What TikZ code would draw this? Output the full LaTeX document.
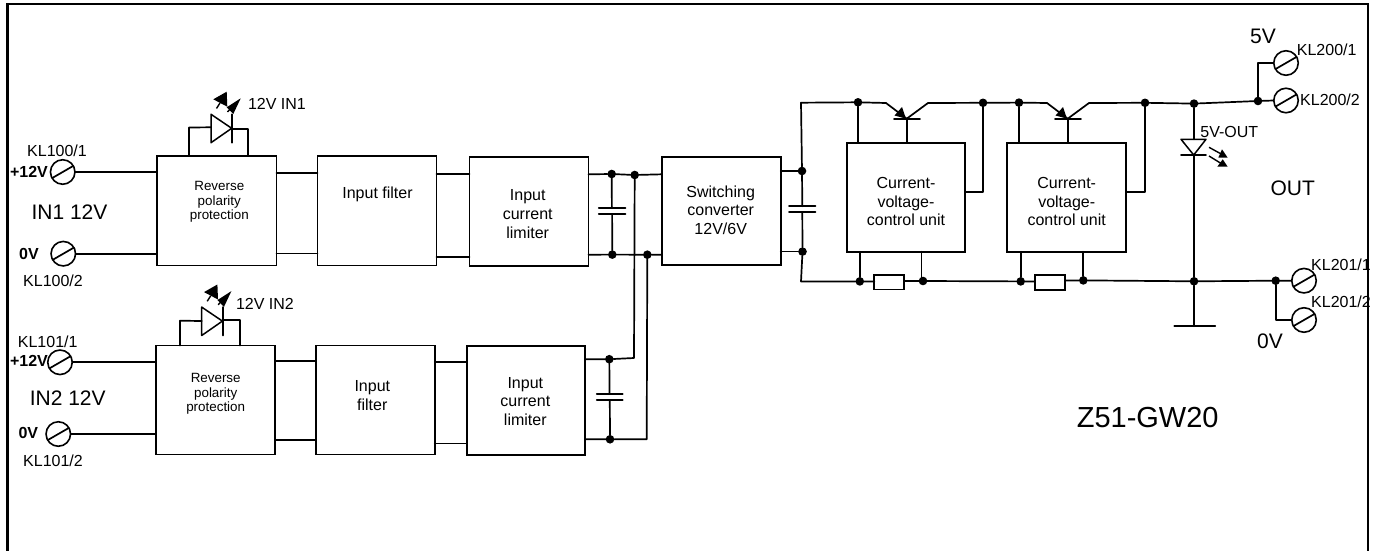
\documentclass[tikz,border=0pt]{standalone}
\usepackage{fontspec}
\setmainfont{Liberation Sans}
\newcommand{\fsz}[1]{\fontsize{#1}{#1}\selectfont}
\tikzset{
  wire/.style={line width=1.7pt,line cap=round,line join=round},
  bx/.style={draw,line width=1.9pt,rectangle,inner sep=0pt,outer sep=0pt,anchor=north west,fill=white},
  dot/.style={circle,fill=black,inner sep=0pt,outer sep=0pt,minimum size=8.6pt},
  term/.style={circle,draw,line width=1.6pt,inner sep=0pt,outer sep=0pt,minimum size=24.5pt},
  res/.style={draw,line width=1.7pt,rectangle,inner sep=0pt,outer sep=0pt,fill=white,minimum width=30pt,minimum height=14.5pt},
  tx/.style={inner sep=0pt,align=center},
  small/.style={tx,font=\fsz{13.4}\linespread{1.1}},
  med/.style={tx,font=\fsz{16}},
  big/.style={tx,font=\fsz{21}},
  bold/.style={tx,font=\bfseries\fsz{16}},
}
\newcommand{\terminal}[2]{%
  \node[term] (#1) at (#2) {};
  \draw[wire] (#1.210) -- (#1.30);}
\newcommand{\boxnode}[5]{% name, x, y, w, h
  \node[bx,minimum width=#4pt,minimum height=#5pt] (#1) at (#2,#3) {};}
\newcommand{\ledin}{%
  \draw[wire,line width=1.5pt] (211,114.3) -- (211,142.7) -- (231.7,128.3) -- cycle;
  \draw[wire] (232.3,114.3) -- (232.3,142.7);
  \fill (213.3,99.3) -- (226.7,91.7) -- (227.3,106.7) -- cycle;
  \fill (226.7,107.3) -- (240.7,98.3) -- (233.3,114) -- cycle;
  \draw[line width=1.4pt] (216.5,108.5) -- (220,103);
  \draw[line width=1.4pt] (227.5,112) -- (231,108);}
\newcommand{\transistor}{%
  \draw[wire] (886,103) -- (906.7,118.7) -- (928,103);
  \draw[wire] (894,118.7) -- (920,118.7);
  \fill (906,118.7) -- (894.5,115.5) -- (902,107) -- cycle;}
\begin{document}
\begin{tikzpicture}[x=1pt,y=-1pt]
\useasboundingbox (0,0) rectangle (1378,551);
\fill[white] (0,0) rectangle (1378,551);

% blocks
\boxnode{rppa}{157}{156}{119.5}{109.5}
\boxnode{ifa}{317.5}{156}{119}{109.5}
\boxnode{icla}{469.5}{157}{119}{109}
\boxnode{sw}{661.7}{156.7}{119}{108.7}
\boxnode{cvca}{846.7}{142.7}{118.6}{109}
\boxnode{cvcb}{1007.3}{143}{118.7}{108.7}
\boxnode{rppb}{155.7}{345.5}{119.3}{109}
\boxnode{ifb}{316}{345.5}{118.7}{109}
\boxnode{iclb}{466.7}{345.7}{118.5}{109.3}

% terminals
\terminal{ta}{62.7,172}
\terminal{tb}{63.3,253.7}
\terminal{tc}{60,362.3}
\terminal{td}{58.3,434}
\terminal{te}{1286,63}
\terminal{tf}{1286,100.5}
\terminal{tg}{1304,280.7}
\terminal{th}{1304,320}

% dots
\foreach \n/\p in {da/{611.7,174},db/{634.7,175},dc/{612.3,254.6},dd/{647.3,254.7},
  de/{802,171},df/{802.5,251.6},dg/{858,102.3},dh/{983,102.8},di/{1019,102.6},
  dj/{1145,102.8},dk/{1194,103.6},dl/{1258,101},dm/{859.8,281.4},dn/{923,281},
  dp/{1020.7,281.4},dq/{1083.3,280.4},dr/{1194,281.3},ds/{1275.7,280.7},
  dt/{609.3,359.2},du/{610,439.3}}
  {\node[dot] (\n) at (\p) {};}

% input 1 wires
\draw[wire] (ta.east) -- (rppa.west |- ta.east);
\draw[wire] (tb.east) -- (rppa.west |- tb.east);
\draw[wire] (rppa.east |- 0,172.7) -- (ifa.west |- 0,172.7);
\draw[wire] (rppa.east |- 0,253.5) -- (ifa.west |- 0,253.5);
\draw[wire] (ifa.east |- 0,174) -- (icla.west |- 0,174);
\draw[wire] (ifa.east |- 0,257) -- (icla.west |- 0,257);
\draw[wire] (icla.east |- 0,174.3) -- (da) -- (db) -- (sw.west |- 0,174.3);
\draw[wire] (icla.east |- 0,254.7) -- (dc) -- (dd) -- (sw.west |- 0,254.7);
\draw[wire] (da) -- (611.9,208.3);
\draw[wire] (612.1,214.3) -- (dc);
\draw[wire] (598.7,208.3) -- (625.5,208.3);
\draw[wire] (598.7,214.3) -- (625.5,214.3);

% input 2 wires
\draw[wire] (tc.east) -- (rppb.west |- tc.east);
\draw[wire] (td.east) -- (rppb.west |- td.east);
\draw[wire] (rppb.east |- 0,361.3) -- (ifb.west |- 0,361.3);
\draw[wire] (rppb.east |- 0,440) -- (ifb.west |- 0,440);
\draw[wire] (ifb.east |- 0,362) -- (iclb.west |- 0,362);
\draw[wire] (ifb.east |- 0,443.5) -- (iclb.west |- 0,443.5);
\draw[wire] (iclb.east |- dt) -- (dt) -- (634,358) -- (db);
\draw[wire] (iclb.east |- du) -- (du) -- (646.7,439.3) -- (dd);
\draw[wire] (dt) -- (609.6,394);
\draw[wire] (609.8,400) -- (du);
\draw[wire] (596.7,394) -- (622.7,394);
\draw[wire] (596.7,400) -- (622.7,400);

% converter output
\draw[wire] (sw.east |- de) -- (de);
\draw[wire] (sw.east |- df) -- (df);
\draw[wire] (de) -- (802.3,206.3);
\draw[wire] (802.3,212.3) -- (df);
\draw[wire] (789,206.3) -- (815.5,206.3);
\draw[wire] (789,212.3) -- (815.5,212.3);

% upper rail
\draw[wire] (de) -- (801,102.7) -- (dg) -- (886,103);
\transistor
\begin{scope}[xshift=161pt]\transistor\end{scope}
\draw[wire] (928,103) -- (dh) -- (di) -- (1047,103);
\draw[wire] (1089,103) -- (dj) -- (dk) -- (dl) -- (tf.west);
\draw[wire] (906.7,118.7) -- (cvca.north -| 906.7,0);
\draw[wire] (1067.7,118.7) -- (cvcb.north -| 1067.7,0);
\draw[wire] (dg) -- (cvca.north -| dg);
\draw[wire] (di) -- (cvcb.north -| di);
\draw[wire] (dh) -- (983,192.3) -- (cvca.east |- 0,192.3);
\draw[wire] (dj) -- (1145,192.3) -- (cvcb.east |- 0,192.3);
\draw[wire] (dl) -- (1258,63) -- (te.west);

% lower rail
\node[res] (ra) at (889.3,282.3) {};
\node[res] (rb) at (1050,282.5) {};
\draw[wire] (df) -- (801,281.5) -- (dm) -- (ra.west |- dm);
\draw[wire] (ra.east |- dn) -- (dn) -- (dp) -- (rb.west |- dp);
\draw[wire] (rb.east |- dq) -- (dq) -- (dr) -- (ds) -- (tg.west);
\draw[wire] (cvca.south -| dm) -- (dm);
\draw[wire] (cvca.south -| 921.5,0) -- (921.5,281);
\draw[wire] (cvcb.south -| dp) -- (dp);
\draw[wire] (cvcb.south -| dq) -- (dq);
\draw[wire] (ds) -- (1275.7,320) -- (th.west);

% output LED and ground
\draw[wire] (dk) -- (1194,139.3);
\draw[wire,line width=1.5pt] (1181,139.3) -- (1206,139.3) -- (1193.7,155) -- cycle;
\draw[wire] (1181,155) -- (1206,155);
\draw[wire] (1194,155) -- (dr);
\draw[wire] (dr) -- (1194,326.3);
\draw[wire] (1174.3,326.3) -- (1215.3,326.3);
\draw[line width=1.4pt] (1209,147.3) -- (1223,155);
\fill (1222,149.3) -- (1227.7,157.7) -- (1218.3,157.7) -- cycle;
\draw[line width=1.4pt] (1209,156) -- (1222,164);
\fill (1222.7,159.3) -- (1227.7,166.7) -- (1217.3,166.7) -- cycle;

% input LEDs
\ledin
\draw[wire] (211,127.3) -- (189,127.5) -- (rppa.north -| 189,0);
\draw[wire] (232.3,129.3) -- (248.3,129.3) -- (rppa.north -| 248.3,0);
\begin{scope}[shift={(-9.3,192.8)}]\ledin\end{scope}
\draw[wire] (201.7,321) -- (180,320.7) -- (rppb.north -| 180,0);
\draw[wire] (222.7,319.7) -- (239.7,319.7) -- (rppb.north -| 239.7,0);

% frame
\draw[line width=2.4pt,line join=miter] (7.5,551) -- (7.5,4) -- (1368,4) -- (1368,551);

% texts
\node[med] (l1) at (57,151) {KL100/1};
\node[bold] (l2) at (29,171.5) {+12V};
\node[big] (l3) at (69.5,212) {IN1 12V};
\node[bold] (l4) at (29,254) {0V};
\node[med] (l5) at (53,280.5) {KL100/2};
\node[med] (l6) at (277,103.5) {12V IN1};
\node[med] (l7) at (265,304.3) {12V IN2};
\node[med] (l8) at (47.7,341.7) {KL101/1};
\node[bold] (l9) at (29,361) {+12V};
\node[big] (l10) at (67.7,398.3) {IN2 12V};
\node[bold] (l11) at (28.3,432.7) {0V};
\node[med] (l12) at (53,461) {KL101/2};

\node[small] (a1) at (219.3,202) {Reverse\\[1.2pt]polarity\\[1.2pt]protection};
\node[small] (a2) at (215.7,394) {Reverse\\[1.2pt]polarity\\[1.2pt]protection};
\node[med] (a3) at (377.5,194) {Input filter};
\node[med] (a4) at (372.3,395.3) {Input\\[2.6pt]filter};
\node[med] (a5) at (527.7,214) {Input\\[2.6pt]current\\[2.6pt]limiter};
\node[med] (a6) at (525.3,401.5) {Input\\[2.6pt]current\\[2.6pt]limiter};
\node[med] (a7) at (720.7,210) {Switching\\[2.6pt]converter\\[2.6pt]12V/6V};
\node[med] (a8) at (906,201.5) {Current-\\[2.6pt]voltage-\\[2.6pt]control unit};
\node[med] (a9) at (1066.7,201.5) {Current-\\[2.6pt]voltage-\\[2.6pt]control unit};

\node[big] (b1) at (1263,36.7) {5V};
\node[med] (b2) at (1326.7,50) {KL200/1};
\node[med] (b3) at (1330,100) {KL200/2};
\node[med] (b4) at (1229.3,131.7) {5V-OUT};
\node[big] (b5) at (1292.7,188.3) {OUT};
\node[med] (b6) at (1341,264.3) {KL201/1};
\node[med] (b7) at (1341,301.7) {KL201/2};
\node[big] (b8) at (1270,341.7) {0V};
\node[tx,font=\fsz{29}] (b9) at (1147.7,417.3) {Z51-GW20};
\end{tikzpicture}
\end{document}
